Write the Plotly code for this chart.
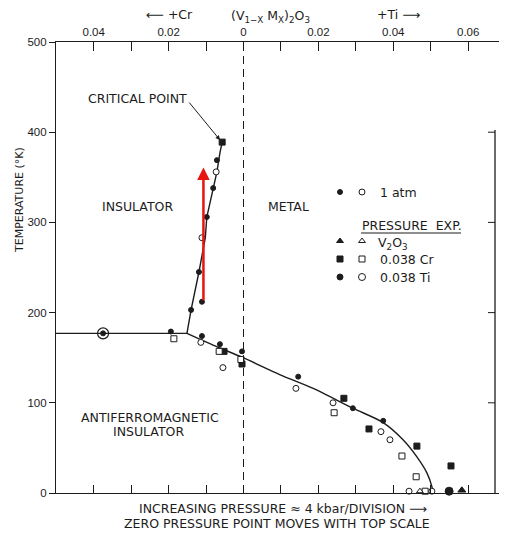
import plotly.graph_objects as go

# ---------------- data (composition: negative = Cr, positive = Ti ; T in K) ----------------
atm_filled_x = [-0.0375, -0.0194, -0.0140, -0.0111, -0.0119, -0.0098, -0.0081, -0.0071,
                -0.0111, -0.0063, -0.0004, 0.0146, 0.0292, 0.0373]
atm_filled_T = [177, 179, 203, 212, 245, 306, 338, 369, 174, 165, 157, 129, 94, 80]
atm_open_x = [-0.0111, -0.0073, -0.0114, -0.0055, 0.0140, 0.0239, 0.0367, 0.0391, 0.0442, 0.0503]
atm_open_T = [283, 356, 167, 139, 116, 100, 68, 59, 2, 2]
cr_filled_x = [-0.0057, -0.0052, -0.0004, 0.0268, 0.0335, 0.0463, 0.0554]
cr_filled_T = [389, 157, 143, 105, 71, 52, 30]
cr_open_x = [-0.0186, -0.0065, -0.0007, 0.0242, 0.0423, 0.0461, 0.0485]
cr_open_T = [171, 157, 148, 89, 41, 18, 2]
v2o3_filled_x = [0.0583]
v2o3_filled_T = [3]
v2o3_open_x = [0.0471]
v2o3_open_T = [2]
ti_filled_x = [0.0549]
ti_filled_T = [2]
circled_x = [-0.0375]
circled_T = [177]

# phase boundaries
flat_x = [-0.0501, -0.0151]
flat_T = [177, 177]
upper_x = [-0.0151, -0.0140, -0.0119, -0.0102, -0.0098, -0.0081, -0.0071, -0.0063, -0.0057]
upper_T = [177, 203, 245, 283, 306, 338, 356, 377, 389]
lower_x = [-0.0151, -0.0076, -0.0001, 0.0098, 0.0186, 0.0292, 0.0373, 0.0426, 0.0463, 0.0490, 0.0503, 0.0506]
lower_T = [177, 163, 150, 131, 116, 94, 78, 59, 40, 22, 7, 0]

# red arrow
red_x = -0.0107
red_T = [212, 361]

# axes
top_tickvals = [-0.04, -0.03, -0.02, -0.01, 0, 0.01, 0.02, 0.03, 0.04, 0.05, 0.06]
top_ticktext = ["0.04", "", "0.02", "", "0", "", "0.02", "", "0.04", "", "0.06"]
y_tickvals = [0, 100, 200, 300, 400, 500]
right_ticks = [100, 200, 300, 400]

# ---------------- layout helpers (page pixels; body margin removed by post_script) ----------------
PW, PH = 505, 533
W, H = PW, PH
PL, PR, PT, PB = 56, 499, 42, 493  # plot area in page pixels
RF = 495                           # right frame x (page px)
L, R, T, B = PL, W - PR, PT, H - PB
X0 = -0.05007
X1 = X0 + (PR - PL) / 3745
INK = "#1c1c1c"
FONT = "DejaVu Sans"


def cx(px):
    return X0 + (px - PL) / (PR - PL) * (X1 - X0)


def ty(py):
    return (PB - py) / (PB - PT) * 500


def pxp(px):
    return (px - PL) / (PR - PL)


def pyp(py):
    return (PB - py) / (PB - PT)


fig = go.Figure()

# right frame
fig.add_trace(go.Scatter(x=[cx(RF), cx(RF)], y=[0, ty(130)], mode="lines",
                         line=dict(color=INK, width=1.3), hoverinfo="skip"))

line_style = dict(color=INK, width=1.4)
fig.add_trace(go.Scatter(x=flat_x, y=flat_T, mode="lines", line=line_style, hoverinfo="skip"))
fig.add_trace(go.Scatter(x=upper_x, y=upper_T, mode="lines", line=line_style, hoverinfo="skip"))
fig.add_trace(go.Scatter(x=lower_x, y=lower_T, mode="lines",
                         line=dict(color=INK, width=1.4, shape="spline", smoothing=0.8),
                         hoverinfo="skip", cliponaxis=False))


def mk(x, y, symbol, size, filled, lw=1):
    fig.add_trace(go.Scatter(
        x=x, y=y, mode="markers", cliponaxis=False, hoverinfo="skip",
        marker=dict(symbol=symbol, size=size,
                    color=INK if filled else "white",
                    line=dict(color=INK, width=lw))))


# ring around the circled point
fig.add_trace(go.Scatter(x=circled_x, y=circled_T, mode="markers", hoverinfo="skip",
                         marker=dict(symbol="circle-open", size=11, color=INK, line=dict(width=1.2))))
mk(atm_filled_x, atm_filled_T, "circle", 5, True)
mk(atm_open_x, atm_open_T, "circle", 6, False)
mk(cr_filled_x, cr_filled_T, "square", 6, True)
mk(cr_open_x, cr_open_T, "square", 6, False)
mk(v2o3_filled_x, v2o3_filled_T, "triangle-up", 7, True)
mk(v2o3_open_x, v2o3_open_T, "triangle-up", 6, False)
mk(ti_filled_x, ti_filled_T, "circle", 8, True)

# legend glyphs (positions are layout)
leg_rows = [(192, "circle", 5, 6), (241, "triangle-up", 6, 6), (259, "square", 6, 6), (277, "circle", 6, 7)]
for py, sym, s1, s2 in leg_rows:
    mk([cx(340)], [ty(py)], sym, s1, True)
    mk([cx(362)], [ty(py)], sym, s2, False)

# invisible trace for top axis
fig.add_trace(go.Scatter(x=[0], y=[0], xaxis="x2", mode="markers", marker=dict(opacity=0), hoverinfo="skip"))

ann = []


def txt(px, py, s, size=12.5, xanchor="center", ref="data", angle=0, fam=FONT):
    if ref == "data":
        x, y, xr, yr = cx(px), ty(py), "x", "y"
    else:
        x, y, xr, yr = pxp(px), pyp(py), "paper", "paper"
    ann.append(dict(x=x, y=y, xref=xr, yref=yr, text=s, showarrow=False,
                    xanchor=xanchor, yanchor="middle", textangle=angle,
                    font=dict(family=fam, size=size, color=INK)))


txt(137, 98, "CRITICAL POINT")
txt(137, 206, "INSULATOR")
txt(288, 206, "METAL")
txt(150, 417, "ANTIFERROMAGNETIC")
txt(148, 431, "INSULATOR")
txt(378, 192, "1 atm", xanchor="left")
txt(360, 225, "PRESSURE  EXP.", xanchor="left")
txt(376, 243, "V<sub>2</sub>O<sub>3</sub>", xanchor="left")
txt(378, 259, "0.038 Cr", xanchor="left")
txt(378, 277, "0.038 Ti", xanchor="left")
txt(169, 14, "⟵ +Cr", ref="paper")
txt(270, 16, "(V<sub>1−X</sub> M<sub>X</sub>)<sub>2</sub>O<sub>3</sub>", ref="paper")
txt(398, 14, "+Ti ⟶", ref="paper")
txt(283, 509, "INCREASING PRESSURE ≈ 4 kbar/DIVISION ⟶", ref="paper")
txt(277, 523, "ZERO PRESSURE POINT MOVES WITH TOP SCALE", ref="paper")
txt(19, 200, "TEMPERATURE (°K)", size=11, ref="paper", angle=-90)

# critical point pointer
ann.append(dict(x=cx(220), y=ty(140), ax=cx(188), ay=ty(101), xref="x", yref="y", axref="x", ayref="y",
                text="", showarrow=True, arrowhead=2, arrowsize=0.9, arrowwidth=1, arrowcolor=INK))
# red arrow
ann.append(dict(x=red_x, y=red_T[1], ax=red_x, ay=red_T[0], xref="x", yref="y", axref="x", ayref="y",
                text="", showarrow=True, arrowhead=2, arrowsize=1, arrowwidth=2.5, arrowcolor="#e8140f"))

shapes = []
# dashed zero line
shapes.append(dict(type="line", xref="x", yref="y", x0=0, x1=0, y0=0, y1=ty(50),
                   line=dict(color=INK, width=1, dash="8px,5px")))
# underline of PRESSURE EXP.
shapes.append(dict(type="line", xref="x", yref="y", x0=cx(361), x1=cx(461), y0=ty(233), y1=ty(233),
                   line=dict(color=INK, width=1)))
# right-frame ticks
for t in right_ticks:
    shapes.append(dict(type="line", xref="x", yref="y", x0=cx(RF), x1=cx(RF - 7), y0=t, y1=t,
                       line=dict(color=INK, width=1)))

fig.update_layout(
    width=W, height=H,
    margin=dict(l=L, r=R, t=T, b=B),
    paper_bgcolor="white", plot_bgcolor="white",
    showlegend=False,
    annotations=ann, shapes=shapes,
    xaxis=dict(range=[X0, X1], showgrid=False, zeroline=False, showline=True, linecolor=INK, linewidth=1.2,
               ticks="inside", ticklen=8, tickwidth=1, tickcolor=INK,
               tickvals=top_tickvals, showticklabels=False),
    xaxis2=dict(range=[X0, X1], overlaying="x", side="top", showgrid=False, zeroline=False,
                showline=True, linecolor=INK, linewidth=1.2,
                ticks="inside", ticklen=9, tickwidth=1, tickcolor=INK,
                tickvals=top_tickvals, ticktext=top_ticktext,
                tickfont=dict(family="Liberation Sans", size=11.5, color=INK)),
    yaxis=dict(range=[0, 500], showgrid=False, zeroline=False, showline=True, linecolor=INK, linewidth=1.2,
               ticks="outside", ticklen=6, tickwidth=1, tickcolor=INK, tickvals=y_tickvals,
               tickfont=dict(family="Liberation Sans", size=11.5, color=INK)),
)

fig.write_html("out.html", config={"displayModeBar": False},
               post_script="document.body.style.margin='0';document.body.style.overflow='hidden';")
